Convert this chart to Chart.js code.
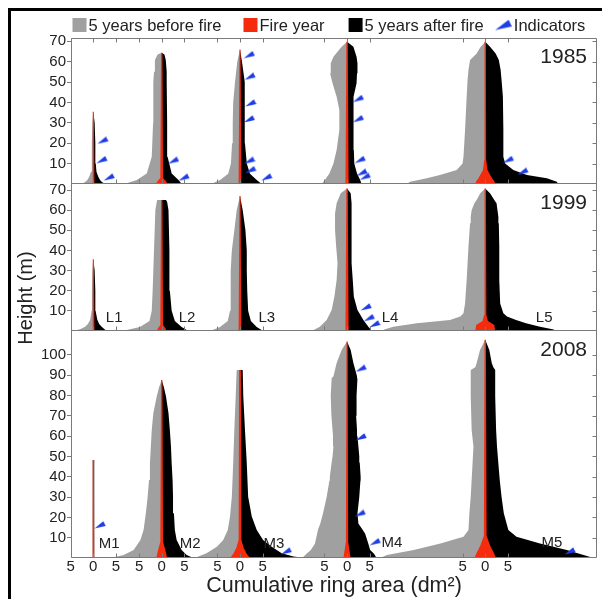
<!DOCTYPE html>
<html>
<head>
<meta charset="utf-8">
<script src="https://cdn.jsdelivr.net/npm/chart.js@4.4.1/dist/chart.umd.min.js"></script>
<style>
  html, body { margin: 0; padding: 0; background: #fff; }
  #wrap { position: relative; width: 602px; height: 599px; }
  canvas { display: block; }
</style>
</head>
<body>
<div id="wrap"><canvas id="c" width="602" height="599"></canvas></div>
<script>
// ---------------- DATA ----------------
const years = ['1985', '1999', '2008'];
const legendLabels = ['5 years before fire', 'Fire year', '5 years after fire', 'Indicators'];
const treeNames99 = ['L1', 'L2', 'L3', 'L4', 'L5'];
const treeNames08 = ['M1', 'M2', 'M3', 'M4', 'M5'];
// stem positions along the shared cumulative-area axis (dm2)
const treeOffsets = [4.92, 20.02, 37.3, 60.93, 91.43];
const xTickDistances = [-5, 0, 5];
const yTicks85 = [10, 20, 30, 40, 50, 60, 70];
const yTicks99 = [10, 20, 30, 40, 50, 60, 70];
const yTicks08 = [10, 20, 30, 40, 50, 60, 70, 80, 90, 100];

// ---- 1985 profiles: heights (m), cumulative ring area half-widths (dm2)
const h85_1 = [0, 1, 2, 3.6, 6, 10, 20, 30, 35.4];
const before85_1 = [2.6, 1.8, 1.3, 0.9, 0.5, 0.35, 0.3, 0.2, 0];
const after85_1 = [2.6, 1.9, 1.5, 1.1, 0.7, 0.55, 0.45, 0.3, 0];
const fireH85_1 = [0, 35.4], fire85_1 = [0.25, 0.12];

const h85_2 = [0, 0.6, 2, 5.2, 13.4, 30, 50, 55, 60.8, 63.5, 64.4];
const before85_2 = [7.9, 7.4, 5.5, 3.3, 2.2, 1.9, 1.85, 1.7, 1.5, 0.9, 0];
const after85_2 = [4.6, 4.2, 3.7, 2.2, 1.3, 1.2, 1.1, 1.1, 0.9, 0.6, 0];
const fireH85_2 = [0, 1.5, 3, 64.4], fire85_2 = [1.3, 0.9, 0.3, 0.15];

const h85_3 = [0, 0.5, 2, 5, 10, 20, 30, 40, 50, 60, 66];
const before85_3 = [6.2, 5.9, 4.4, 2.6, 2.0, 1.75, 1.6, 1.5, 1.1, 0.6, 0];
const after85_3 = [4.8, 4.5, 3.7, 2.2, 1.5, 1.1, 1.1, 1.1, 0.95, 0.44, 0];
const fireH85_3 = [0, 66], fire85_3 = [0.3, 0.12];

const h85_4 = [0, 2, 5.2, 10.1, 16.7, 26.5, 36.3, 42.8, 49.4, 54.3, 59.2, 62.4, 67.3, 69.8];
const before85_4 = [5.6, 4.9, 3.9, 3.0, 2.3, 1.7, 1.7, 2.3, 3.2, 3.75, 3.6, 3.0, 1.2, 0];
const after85_4 = [3.2, 2.9, 2.2, 1.6, 1.5, 1.4, 1.4, 1.5, 2.1, 2.2, 2.3, 2.1, 1.4, 0];
const fireH85_4 = [0, 69.8], fire85_4 = [0.35, 0.15];

const h85_5 = [0, 1.1, 2.8, 4.4, 6.9, 10.1, 13.4, 26.5, 42.8, 51, 55.9, 60.8, 64, 67.3, 69.8];
const before85_5 = [17.3, 16.6, 12.9, 10, 6.3, 5.0, 4.8, 4.45, 4.1, 3.9, 3.7, 3.35, 1.9, 1.0, 0];
const after85_5 = [16.1, 15.8, 13.6, 9.2, 6.2, 4.4, 4.0, 4.0, 3.9, 3.6, 3.4, 3.0, 2.3, 1.06, 0];
const fireH85_5 = [0, 1, 2.8, 6.9, 12, 69.8], fire85_5 = [2.2, 2.1, 1.5, 0.5, 0.2, 0.15];

// ---- 1999 profiles
const h99_1 = [0, 1, 2.1, 3.5, 5.5, 10, 20, 30, 35.6];
const before99_1 = [4.3, 2.8, 1.8, 1.2, 0.7, 0.35, 0.3, 0.2, 0];
const after99_1 = [3.0, 2.4, 1.85, 1.3, 0.9, 0.5, 0.45, 0.3, 0];
const fireH99_1 = [0, 35.6], fire99_1 = [0.25, 0.12];

const h99_2 = [0, 0.5, 2, 5, 10, 20, 40, 60, 64, 65];
const before99_2 = [9.2, 7.7, 4.8, 2.7, 2.2, 2.0, 1.7, 1.4, 1.1, 1.0];
const after99_2 = [6.6, 5.5, 4.4, 2.9, 2.2, 1.8, 1.7, 1.5, 1.2, 0.95];
const fireH99_2 = [0, 1.5, 3, 65], fire99_2 = [1.1, 0.8, 0.3, 0.15];

const h99_3 = [0, 2, 5, 10, 20, 30, 40, 50, 60, 67];
const before99_3 = [6.6, 4.4, 2.7, 2.2, 2.1, 2.0, 1.8, 1.25, 0.73, 0];
const after99_3 = [5.1, 3.7, 2.4, 1.8, 1.6, 1.5, 1.5, 1.2, 0.6, 0];
const fireH99_3 = [0, 67], fire99_3 = [0.3, 0.12];

const h99_4 = [0, 2.1, 5.5, 10.4, 17, 25.3, 33.6, 41.9, 50.1, 58.4, 63.4, 68.4, 70.8];
const before99_4 = [7.8, 6.0, 4.5, 3.4, 2.8, 2.3, 2.1, 2.4, 2.65, 2.65, 2.3, 1.4, 0];
const after99_4 = [5.5, 4.7, 3.6, 2.3, 1.5, 1.26, 1.0, 1.0, 1.0, 1.0, 1.0, 0.8, 0];
const fireH99_4 = [0, 70.8], fire99_4 = [0.35, 0.15];

const h99_5 = [0, 0.8, 2.1, 3.8, 5.5, 7.2, 8.8, 13.7, 25.3, 41.9, 53.5, 56.7, 60, 63.4, 65, 68.4, 70.8];
const before99_5 = [22.5, 22.3, 20.3, 15.1, 7.8, 5.5, 4.8, 4.45, 4.1, 3.7, 3.35, 3.2, 3.0, 2.4, 1.9, 1.1, 0];
const after99_5 = [15.4, 15.1, 12.1, 9.0, 6.8, 4.8, 4.0, 3.3, 3.1, 3.1, 3.0, 2.9, 2.7, 2.5, 2.0, 1.06, 0];
const fireH99_5 = [0, 3, 5, 8, 70.8], fire99_5 = [2.2, 2.0, 0.6, 0.25, 0.15];

// ---- 2008 profiles
const h08_1 = [0, 10, 48.3];
const before08_1 = [0.26, 0.22, 0.14];
const after08_1 = [0.3, 0.26, 0.16];
const fireH08_1 = [0, 48.3], fire08_1 = [0.2, 0.14];

const h08_2 = [0, 1.5, 3.9, 8.9, 13.8, 22, 30.2, 38.4, 46.6, 54.8, 63, 71.3, 79.5, 84, 87.7];
const before08_2 = [11.3, 8.4, 6.2, 4.7, 4.0, 3.5, 3.1, 2.8, 2.6, 2.4, 2.2, 1.85, 1.1, 0.6, 0];
const after08_2 = [7.0, 5.5, 4.4, 3.3, 2.9, 2.7, 2.5, 2.4, 2.2, 2.05, 1.8, 1.5, 0.95, 0.5, 0];
const fireH08_2 = [0, 4, 8, 87.7], fire08_2 = [1.2, 0.8, 0.3, 0.15];

const h08_3 = [0, 0.7, 2.3, 5.6, 8.9, 13.8, 20.4, 30.2, 46.6, 63, 79.5, 92.6];
const before08_3 = [9.9, 9.2, 7.4, 5.1, 3.7, 2.7, 2.2, 1.8, 1.5, 1.25, 0.95, 0.73];
const after08_3 = [14.3, 11.8, 9.2, 7.0, 5.1, 3.7, 2.6, 1.8, 1.5, 1.1, 0.73, 0.6];
const fireH08_3 = [0, 2, 5, 9, 92.6], fire08_3 = [2.2, 1.5, 0.8, 0.3, 0.2];

const h08_4 = [0, 2, 4, 7, 12, 14, 17, 22, 30, 38, 40, 47, 50, 55, 60, 63, 70, 80, 88.5, 89.5, 96, 102.5, 106.6];
const before08_4 = [9.9, 9.0, 8.0, 7.1, 6.6, 6.4, 5.9, 5.3, 4.5, 3.9, 3.8, 3.4, 3.2, 3.0, 3.1, 3.2, 3.45, 3.6, 3.4, 3.0, 2.3, 1.2, 0];
const after08_4 = [6.5, 6.0, 5.1, 4.7, 4.0, 3.4, 2.5, 2.3, 2.7, 2.95, 3.0, 2.8, 2.7, 2.5, 2.3, 2.2, 2.0, 2.1, 2.3, 2.2, 1.4, 0.8, 0];
const fireH08_4 = [0, 8, 106.6], fire08_4 = [0.8, 0.25, 0.12];

const h08_5 = [0, 1.5, 3.9, 7.2, 10.5, 13.8, 22, 30.2, 38.4, 46.6, 54.8, 63, 79.5, 92.6, 94, 95.9, 102.5, 107.5];
const before08_5 = [23.2, 21.7, 15.8, 9.9, 4.8, 3.7, 3.5, 3.2, 3.0, 2.8, 2.6, 3.0, 3.2, 3.2, 2.2, 1.9, 1.15, 0];
const after08_5 = [23.9, 21.7, 18.0, 12.1, 6.9, 5.1, 4.1, 3.6, 3.2, 2.9, 2.6, 2.4, 2.2, 2.2, 1.8, 1.45, 0.9, 0];
const fireH08_5 = [0, 3, 6, 11, 107.5], fire08_5 = [2.4, 1.8, 1.1, 0.3, 0.15];

// ---- indicators: tree index, distance from stem (dm2), height (m)
const indTree85 = [0, 0, 0, 1, 1, 2, 2, 2, 2, 2, 2, 2, 3, 3, 3, 3, 3, 4, 4];
const indDx85 = [2.1, 1.9, 3.5, 2.6, 4.9, 2.05, 2.2, 2.35, 2.05, 2.1, 2.35, 5.9, 2.5, 2.5, 2.9, 3.3, 4.0, 5.1, 8.3];
const indH85 = [21.4, 11.9, 3.4, 11.6, 3.3, 63.4, 52.8, 39.7, 31.9, 11.6, 7.0, 3.4, 41.9, 32, 12, 5.7, 3.7, 12, 6.2];
const indTree99 = [3, 3, 3];
const indDx99 = [4.2, 4.9, 6.1];
const indH99 = [11.9, 6.6, 3.5];
const indTree08 = [0, 2, 3, 3, 3, 3, 4];
const indDx08 = [1.5, 10.2, 3.1, 3.1, 2.9, 6.2, 18.7];
const indH08 = [16.3, 3.4, 93.4, 59.6, 22, 8.0, 3.4];

// ---------------- BUILD ----------------
const FONT = "'Liberation Sans', Arial, Helvetica, sans-serif";
Chart.defaults.font.family = FONT;
Chart.defaults.color = '#222';
const COL = { before: '#a0a0a0', fire: '#f42b0c', after: '#000000', ind: '#1f3de6', frame: '#7a7a7a', text: '#222' };

const profiles = [
  [[h85_1, before85_1, after85_1, fireH85_1, fire85_1], [h85_2, before85_2, after85_2, fireH85_2, fire85_2],
   [h85_3, before85_3, after85_3, fireH85_3, fire85_3], [h85_4, before85_4, after85_4, fireH85_4, fire85_4],
   [h85_5, before85_5, after85_5, fireH85_5, fire85_5]],
  [[h99_1, before99_1, after99_1, fireH99_1, fire99_1], [h99_2, before99_2, after99_2, fireH99_2, fire99_2],
   [h99_3, before99_3, after99_3, fireH99_3, fire99_3], [h99_4, before99_4, after99_4, fireH99_4, fire99_4],
   [h99_5, before99_5, after99_5, fireH99_5, fire99_5]],
  [[h08_1, before08_1, after08_1, fireH08_1, fire08_1], [h08_2, before08_2, after08_2, fireH08_2, fire08_2],
   [h08_3, before08_3, after08_3, fireH08_3, fire08_3], [h08_4, before08_4, after08_4, fireH08_4, fire08_4],
   [h08_5, before08_5, after08_5, fireH08_5, fire08_5]]
];
const indicators = [[indTree85, indDx85, indH85], [indTree99, indDx99, indH99], [indTree08, indDx08, indH08]];
const panelAxes = ['y85', 'y99', 'y08'];

function sidePoly(off, hs, ws, sign) {
  const pts = [{ x: off, y: hs[0] }];
  for (let i = 0; i < hs.length; i++) pts.push({ x: off + sign * ws[i], y: hs[i] });
  pts.push({ x: off, y: hs[hs.length - 1] });
  return pts;
}
function firePoly(off, hs, ws) {
  const pts = [];
  for (let i = 0; i < hs.length; i++) pts.push({ x: off - ws[i], y: hs[i] });
  for (let i = hs.length - 1; i >= 0; i--) pts.push({ x: off + ws[i], y: hs[i] });
  return pts;
}
function shapeSet(label, data, color, axis, order) {
  return { type: 'line', label, data, yAxisID: axis, xAxisID: 'x', order,
    fill: 'shape', backgroundColor: color, borderColor: 'rgba(0,0,0,0)', borderWidth: 0,
    pointRadius: 0, pointHitRadius: 0, tension: 0 };
}
function makeWedge(w, h, color) {
  const c = document.createElement('canvas');
  c.width = w; c.height = h;
  const g = c.getContext('2d');
  const tx = 0.5, ty = h - 0.5, mx = w - 1.6, my = h * 0.32;
  const dx = mx - tx, dy = my - ty, L = Math.hypot(dx, dy);
  const px = -dy / L, py = dx / L, hw = h * 0.34;
  g.fillStyle = color;
  g.beginPath();
  g.moveTo(tx, ty);
  g.lineTo(mx + px * hw, my + py * hw);
  g.lineTo(mx - px * hw, my - py * hw);
  g.closePath();
  g.fill();
  return c;
}
const wedge = makeWedge(12, 8, COL.ind);
const legendWedge = makeWedge(17, 11, COL.ind);

const datasets = [];
profiles.forEach((row, p) => row.forEach((t, k) => {
  const off = treeOffsets[k];
  datasets.push(shapeSet(legendLabels[0], sidePoly(off, t[0], t[1], -1), COL.before, panelAxes[p], 2));
  datasets.push(shapeSet(legendLabels[2], sidePoly(off, t[0], t[2], 1), COL.after, panelAxes[p], 2));
  datasets.push(shapeSet(legendLabels[1], firePoly(off, t[3], t[4]), COL.fire, panelAxes[p], 1));
}));
indicators.forEach(([tr, dx, hh], p) => {
  datasets.push({ type: 'line', label: legendLabels[3], yAxisID: panelAxes[p], xAxisID: 'x', order: 0,
    showLine: false, pointStyle: wedge, pointRadius: 4, pointHitRadius: 0,
    data: tr.map((k, i) => ({ x: treeOffsets[k] + dx[i], y: hh[i] })) });
});

const xTickValues = [];
treeOffsets.forEach(o => xTickDistances.forEach(d => xTickValues.push(o + d)));
function nearestDist(v) {
  let best = Infinity;
  treeOffsets.forEach(o => { if (Math.abs(v - o) < Math.abs(best)) best = v - o; });
  return String(Math.round(Math.abs(best)));
}

function yAxis(ticksArr, max, weight, stackWeight) {
  return {
    type: 'linear', position: 'left', stack: 'panels', stackWeight, weight,
    min: 0, max,
    afterBuildTicks: s => { s.ticks = ticksArr.map(v => ({ value: v })); },
    afterFit: s => { s.width = 30; },
    ticks: { autoSkip: false, font: { size: 15 }, color: COL.text, padding: 1, callback: v => String(v) },
    grid: { drawOnChartArea: false, drawTicks: true, tickLength: 4, color: COL.frame },
    border: { display: false }
  };
}

// annotations layout (tree-name anchor in data units, relative to stem)
const nameDx99 = [4.6, 5.6, 5.9, 9.5, 13.0], nameH99 = [6.5, 6.5, 6.5, 6.5, 6.5];
const nameDx08 = [3.5, 6.3, 7.5, 9.9, 14.7], nameH08 = [6.9, 6.9, 6.9, 7.4, 7.4];

const decor = {
  id: 'decor',
  beforeDraw(chart) {
    const ctx = chart.ctx;
    ctx.save();
    ctx.fillStyle = '#000';
    ctx.fillRect(8, 8, 3, chart.height - 8);
    ctx.fillRect(8, 8, chart.width - 8, 3);
    ctx.restore();
  },
  afterDatasetsDraw(chart) {
    const ctx = chart.ctx, ca = chart.chartArea, xs = chart.scales.x;
    const L = Math.round(ca.left) + 0.5, R = Math.round(ca.right) - 0.5, T = Math.round(ca.top) + 0.5;
    ctx.save();
    ctx.strokeStyle = COL.frame; ctx.lineWidth = 1;
    ctx.beginPath();
    ctx.moveTo(L, T); ctx.lineTo(R, T); ctx.lineTo(R, Math.round(ca.bottom) - 0.5);
    ctx.moveTo(L, T); ctx.lineTo(L, Math.round(ca.bottom) - 0.5);
    xs.ticks.forEach(t => {
      const px = Math.round(xs.getPixelForValue(t.value)) + 0.5;
      ctx.moveTo(px, T); ctx.lineTo(px, T + 4);
    });
    panelAxes.forEach(id => {
      const ys = chart.scales[id];
      const yb = Math.round(ys.getPixelForValue(0)) - 0.5;
      ctx.moveTo(L, yb); ctx.lineTo(R, yb);
      xs.ticks.forEach(t => {
        const px = Math.round(xs.getPixelForValue(t.value)) + 0.5;
        ctx.moveTo(px, yb); ctx.lineTo(px, yb - 4);
      });
      ys.ticks.forEach(t => {
        const py = Math.round(ys.getPixelForValue(t.value)) + 0.5;
        ctx.moveTo(R, py); ctx.lineTo(R - 4, py);
      });
    });
    ctx.stroke();
    // year labels
    ctx.fillStyle = COL.text;
    ctx.textBaseline = 'middle';
    ctx.textAlign = 'right';
    ctx.font = '21px ' + FONT;
    panelAxes.forEach((id, p) => {
      const ys = chart.scales[id];
      ctx.fillText(years[p], ca.right - 10, ys.top + 19);
    });
    // tree names
    ctx.textAlign = 'center';
    ctx.font = '15px ' + FONT;
    const y99 = chart.scales.y99, y08 = chart.scales.y08;
    treeNames99.forEach((n, k) => ctx.fillText(n, xs.getPixelForValue(treeOffsets[k] + nameDx99[k]), y99.getPixelForValue(nameH99[k])));
    treeNames08.forEach((n, k) => ctx.fillText(n, xs.getPixelForValue(treeOffsets[k] + nameDx08[k]), y08.getPixelForValue(nameH08[k])));
    ctx.restore();
  },
  afterDraw(chart) {
    // legend
    const ctx = chart.ctx;
    const cols = [COL.before, COL.fire, COL.after, null];
    const gaps = [22, 24, 11, 0];
    ctx.save();
    ctx.font = '16.5px ' + FONT;
    ctx.textBaseline = 'middle';
    ctx.textAlign = 'left';
    let x = 72.5; const y = 25;
    legendLabels.forEach((txt, i) => {
      if (cols[i]) {
        ctx.fillStyle = cols[i];
        ctx.fillRect(x, y - 7, 14, 14);
        x += 14 + 2;
      } else {
        ctx.drawImage(legendWedge, x, y - legendWedge.height / 2);
        x += legendWedge.width + 2;
      }
      ctx.fillStyle = COL.text;
      ctx.fillText(txt, x, y + 1);
      x += ctx.measureText(txt).width + gaps[i];
    });
    ctx.restore();
  }
};

new Chart(document.getElementById('c'), {
  type: 'line',
  data: { datasets },
  options: {
    responsive: false,
    devicePixelRatio: 1,
    animation: false,
    events: [],
    layout: { padding: { left: 11, right: 5, top: 38, bottom: 0 } },
    plugins: {
      legend: { display: false },
      tooltip: { enabled: false },
      title: { display: true, text: 'Height (m)', position: 'left', fullSize: false,
        font: { size: 20, weight: 'normal' }, color: COL.text, padding: { top: 3, bottom: 3 } }
    },
    scales: {
      x: {
        type: 'linear', position: 'bottom', min: 0, max: 116.1,
        afterBuildTicks: s => { s.ticks = xTickValues.map(v => ({ value: v })); },
        afterFit: s => { s.height = 41; },
        ticks: { autoSkip: false, maxRotation: 0, padding: 0, font: { size: 15 }, color: COL.text,
          callback: v => nearestDist(v) },
        grid: { display: false, drawTicks: false },
        border: { display: false },
        title: { display: true, text: 'Cumulative ring area (dm²)', font: { size: 21.5 }, color: COL.text,
          padding: { top: 0, bottom: 0 } }
      },
      y08: yAxis(yTicks08, 111.8, 1, 227),
      y99: yAxis(yTicks99, 73.0, 2, 147),
      y85: yAxis(yTicks85, 71.6, 3, 146)
    }
  },
  plugins: [decor]
});
</script>
</body>
</html>
